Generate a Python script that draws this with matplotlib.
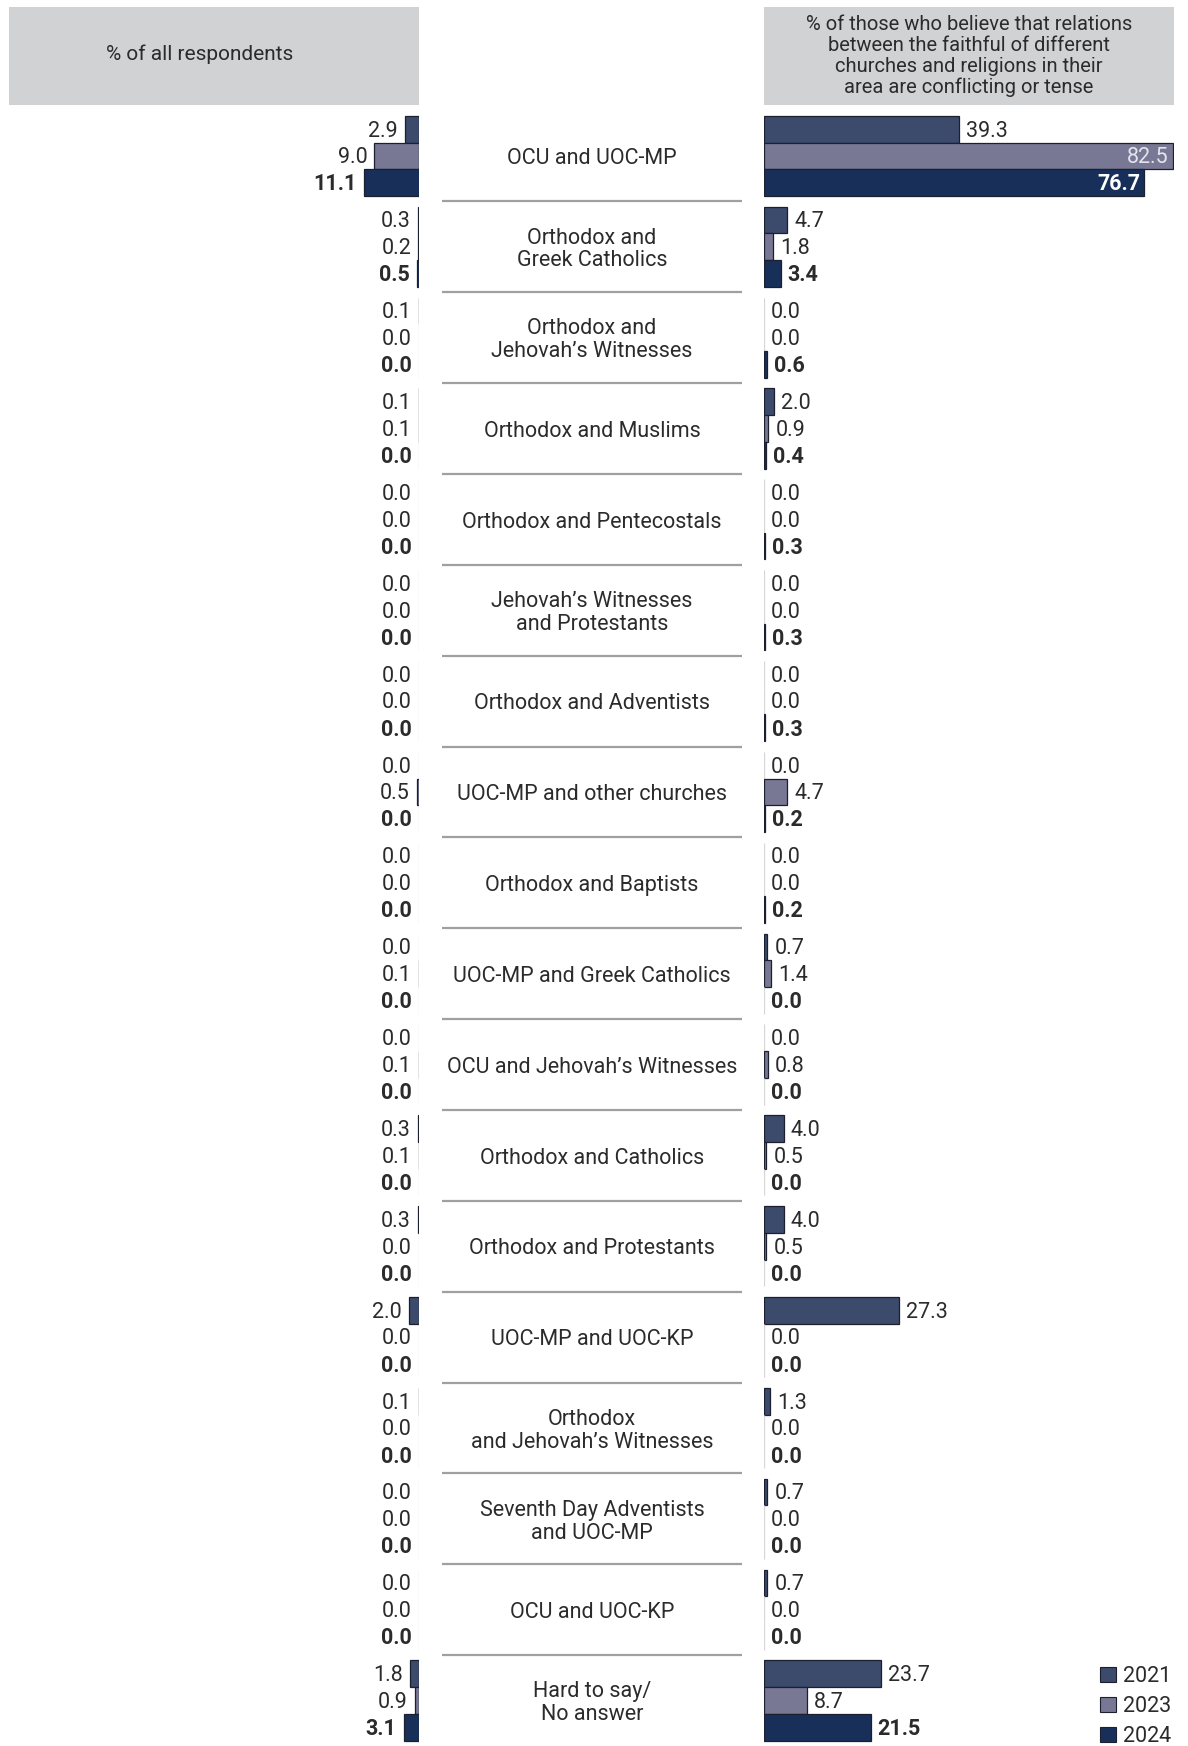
import matplotlib
matplotlib.use("Agg")
import matplotlib.pyplot as plt
from matplotlib.patches import Patch
import numpy as np

plt.rcParams['font.family'] = ['Roboto', 'DejaVu Sans']

categories = [
    "OCU and UOC-MP",
    "Orthodox and\nGreek Catholics",
    "Orthodox and\nJehovah\u2019s Witnesses",
    "Orthodox and Muslims",
    "Orthodox and Pentecostals",
    "Jehovah\u2019s Witnesses\nand Protestants",
    "Orthodox and Adventists",
    "UOC-MP and other churches",
    "Orthodox and Baptists",
    "UOC-MP and Greek Catholics",
    "OCU and Jehovah\u2019s Witnesses",
    "Orthodox and Catholics",
    "Orthodox and Protestants",
    "UOC-MP and UOC-KP",
    "Orthodox\nand Jehovah\u2019s Witnesses",
    "Seventh Day Adventists\nand UOC-MP",
    "OCU and UOC-KP",
    "Hard to say/\nNo answer",
]
years = ["2021", "2023", "2024"]

all_2021 = [2.9, 0.3, 0.1, 0.1, 0.0, 0.0, 0.0, 0.0, 0.0, 0.0, 0.0, 0.3, 0.3, 2.0, 0.1, 0.0, 0.0, 1.8]
all_2023 = [9.0, 0.2, 0.0, 0.1, 0.0, 0.0, 0.0, 0.5, 0.0, 0.1, 0.1, 0.1, 0.0, 0.0, 0.0, 0.0, 0.0, 0.9]
all_2024 = [11.1, 0.5, 0.0, 0.0, 0.0, 0.0, 0.0, 0.0, 0.0, 0.0, 0.0, 0.0, 0.0, 0.0, 0.0, 0.0, 0.0, 3.1]

conf_2021 = [39.3, 4.7, 0.0, 2.0, 0.0, 0.0, 0.0, 0.0, 0.0, 0.7, 0.0, 4.0, 4.0, 27.3, 1.3, 0.7, 0.7, 23.7]
conf_2023 = [82.5, 1.8, 0.0, 0.9, 0.0, 0.0, 0.0, 4.7, 0.0, 1.4, 0.8, 0.5, 0.5, 0.0, 0.0, 0.0, 0.0, 8.7]
conf_2024 = [76.7, 3.4, 0.6, 0.4, 0.3, 0.3, 0.3, 0.2, 0.2, 0.0, 0.0, 0.0, 0.0, 0.0, 0.0, 0.0, 0.0, 21.5]

header_left = "% of all respondents"
header_right = ("% of those who believe that relations\nbetween the faithful of different\n"
                "churches and religions in their\narea are conflicting or tense")

colors = ["#3c4a6c", "#787894", "#183059"]
TEXT = "#2b2b2b"

W, H = 1188, 1746
fig = plt.figure(figsize=(W / 100, H / 100), dpi=100)

def fx(px):
    return px / W

def fy(py_top):
    return 1 - py_top / H

n = len(categories)
y = np.arange(n)
bh = 0.294
offsets = [-bh, 0.0, bh]
XMAX = 82.7

ax_top = 110.5
ax_h = (H - ax_top) / H

axL = fig.add_axes([fx(9), 0, fx(410), ax_h])
axR = fig.add_axes([fx(764), 0, fx(410), ax_h])
axC = fig.add_axes([fx(442), 0, fx(300), ax_h])

for ax in (axL, axR, axC):
    ax.set_ylim(n - 0.5, -0.5)
    ax.axis("off")
axL.set_xlim(XMAX, 0)
axR.set_xlim(0, XMAX)
axC.set_xlim(0, 1)

left_series = [all_2021, all_2023, all_2024]
right_series = [conf_2021, conf_2023, conf_2024]
FS = 15.5

def draw(ax, series, side):
    for k, vals in enumerate(series):
        vals = np.array(vals)
        ec = ["#1c1f2e" if v > 0 else "#d6d6d6" for v in vals]
        ax.barh(y + offsets[k], vals, height=bh, color=colors[k],
                edgecolor=ec, linewidth=0.9)
        for i, v in enumerate(vals):
            weight = "bold" if k == 2 else "normal"
            txt = f"{v:.1f}"
            yy = y[i] + offsets[k] + 0.02
            if side == "L":
                ax.annotate(txt, (v, yy), xytext=(-5, 0),
                            textcoords="offset points", ha="right", va="center",
                            fontsize=FS, color=TEXT, fontweight=weight)
            else:
                if v > 60:
                    c = "white" if k == 2 else "#e4e4ee"
                    ax.annotate(txt, (v, yy), xytext=(-3, 0),
                                textcoords="offset points", ha="right", va="center",
                                fontsize=FS, color=c, fontweight=weight)
                else:
                    ax.annotate(txt, (v, yy), xytext=(5, 0),
                                textcoords="offset points", ha="left", va="center",
                                fontsize=FS, color=TEXT, fontweight=weight)

draw(axL, left_series, "L")
draw(axR, right_series, "R")

for i in range(n - 1):
    axC.axhline(i + 0.5, color="#a0a0a0", linewidth=1.6)
for i, c in enumerate(categories):
    axC.text(0.5, y[i] + 0.03, c, ha="center", va="center", fontsize=FS,
             color=TEXT, linespacing=1.12)

# headers
hL = fig.add_axes([fx(9), fy(105), fx(410), (105 - 7) / H])
hR = fig.add_axes([fx(764), fy(105), fx(410), (105 - 7) / H])
for h in (hL, hR):
    h.set_xticks([]); h.set_yticks([])
    h.set_facecolor("#d1d2d4")
    for s in h.spines.values():
        s.set_visible(False)
hL.text(0.465, 0.52, header_left, ha="center", va="center", fontsize=15, color=TEXT)
hR.text(0.5, 0.5, header_right, ha="center", va="center", fontsize=14.5,
        color=TEXT, linespacing=1.13)

handles = [Patch(facecolor=colors[k], edgecolor="#1c1f2e", linewidth=0.8) for k in range(3)]
fig.legend(handles, years, loc="upper left", bbox_to_anchor=(fx(1100), fy(1666)),
           frameon=False, fontsize=15.5, handlelength=0.75, handleheight=0.75,
           handletextpad=0.3, labelspacing=0.42, borderpad=0, borderaxespad=0,
           labelcolor=TEXT)

fig.savefig("out.png", dpi=100)
